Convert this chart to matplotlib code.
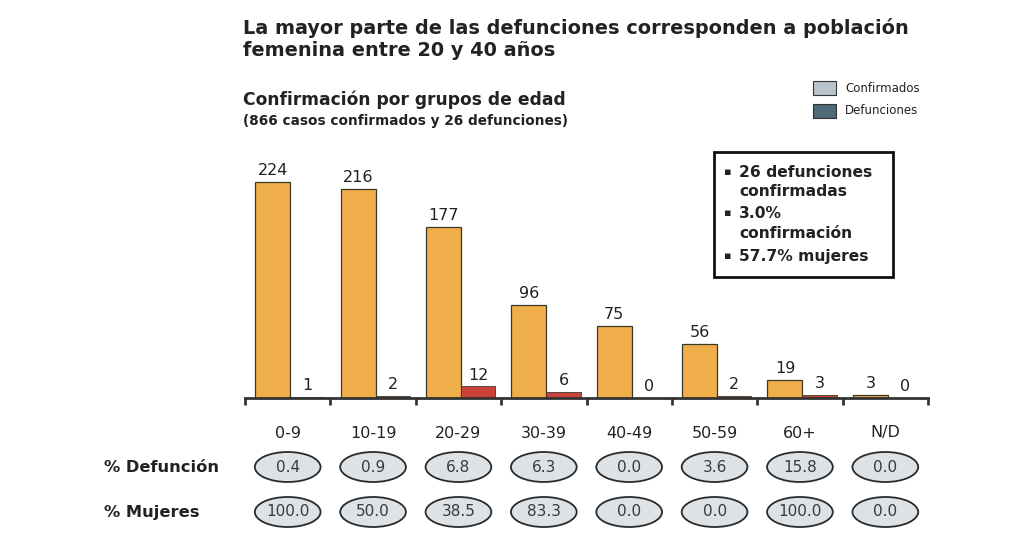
import numpy as np
import matplotlib.pyplot as plt
from matplotlib.patches import Ellipse, Rectangle
from matplotlib.transforms import blended_transform_factory

# data
grupos = ['0-9', '10-19', '20-29', '30-39', '40-49', '50-59', '60+', 'N/D']
confirmados = [224, 216, 177, 96, 75, 56, 19, 3]
defunciones = [1, 2, 12, 6, 0, 2, 3, 0]
pct_defuncion = ['0.4', '0.9', '6.8', '6.3', '0.0', '3.6', '15.8', '0.0']
pct_mujeres = ['100.0', '50.0', '38.5', '83.3', '0.0', '0.0', '100.0', '0.0']
resumen = ['26 defunciones\nconfirmadas', '3.0%\nconfirmación', '57.7% mujeres']

W, H = 1026, 535
txt = '#222222'
naranja = '#EFAE4A'
rojo = '#C9433B'

fig = plt.figure(figsize=(W / 100, H / 100), dpi=100)
fig.patch.set_facecolor('white')

def px(x, y):
    # pixel coords (from top-left) -> figure fraction
    return x / W, 1 - y / H

# bar axes
base_y = 398
ymax = 240
alto = ymax * 0.966
ax = fig.add_axes([245 / W, (H - base_y) / H, (928 - 245) / W, alto / H])
x = np.arange(len(grupos))
b1 = ax.bar(x - 0.38, confirmados, width=0.41, align='edge', color=naranja,
            edgecolor='#3a3a2a', linewidth=0.9)
b2 = ax.bar(x + 0.03, defunciones, width=0.40, align='edge', color=rojo,
            edgecolor='#3a3a2a', linewidth=0.6)
for r, v in zip(b1, confirmados):
    ax.text(r.get_x() + r.get_width() / 2, v + 4, str(v), ha='center', va='bottom',
            fontsize=11.5, color=txt)
for r, v in zip(b2, defunciones):
    ax.text(r.get_x() + r.get_width() / 2, v + 4, str(v), ha='center', va='bottom',
            fontsize=11.5, color=txt)

ax.set_xlim(-0.5, len(grupos) - 0.5)
ax.set_ylim(0, ymax)
for s in ['top', 'right', 'left']:
    ax.spines[s].set_visible(False)
ax.spines['bottom'].set_linewidth(2)
ax.spines['bottom'].set_color('#333333')
ax.set_yticks([])
ax.set_xticks(np.arange(len(grupos) + 1) - 0.5)
ax.set_xticklabels([])
ax.tick_params(axis='x', direction='out', length=5, width=2, color='#333333')

# category labels and % rows, x from data, y in figure fraction
tr = blended_transform_factory(ax.transData, fig.transFigure)
for i, g in enumerate(grupos):
    ax.text(i, px(0, 433)[1], g, transform=tr, ha='center', va='center',
            fontsize=11.5, color=txt, clip_on=False)
for fila, vals in [(467, pct_defuncion), (512, pct_mujeres)]:
    for i, v in enumerate(vals):
        e = Ellipse((i, px(0, fila)[1]), 0.77, 30 / H, transform=tr,
                    facecolor='#DCE2E5', edgecolor='#2a2a2a', linewidth=1.3,
                    clip_on=False)
        ax.add_patch(e)
        ax.text(i, px(0, fila)[1], v, transform=tr, ha='center', va='center',
                fontsize=11, color='#3a3a3a', clip_on=False)

fig.text(*px(104, 467), '% Defunción', ha='left', va='center', fontsize=11.7,
         fontweight='bold', color=txt)
fig.text(*px(104, 512), '% Mujeres', ha='left', va='center', fontsize=11.7,
         fontweight='bold', color=txt)

# titles
fig.text(*px(243, 28), 'La mayor parte de las defunciones corresponden a población',
         ha='left', va='center', fontsize=13.9, fontweight='bold', color=txt)
fig.text(*px(243, 50), 'femenina entre 20 y 40 años', ha='left', va='center',
         fontsize=13.9, fontweight='bold', color=txt)
fig.text(*px(243, 100), 'Confirmación por grupos de edad', ha='left', va='center',
         fontsize=12.3, fontweight='bold', color=txt)
fig.text(*px(243, 121), '(866 casos confirmados y 26 defunciones)', ha='left',
         va='center', fontsize=9.8, fontweight='bold', color=txt)

# legend
for yy, col, lab in [(88, '#B9C3CB', 'Confirmados'), (111, '#4F6A78', 'Defunciones')]:
    x0, y0 = px(813, yy + 7)
    fig.patches.append(Rectangle((x0, y0), 23 / W, 14 / H, transform=fig.transFigure,
                                 facecolor=col, edgecolor='#333333', linewidth=0.8))
    fig.text(*px(845, yy), lab, ha='left', va='center', fontsize=8.5, color=txt)

# summary box
bx0, by0 = px(714, 277)
fig.patches.append(Rectangle((bx0, by0), (893 - 714) / W, (277 - 152) / H,
                             transform=fig.transFigure, facecolor='white',
                             edgecolor='#111111', linewidth=2))
ys = [172, 213, 256]
for yy, t in zip(ys, resumen):
    fig.text(*px(724, yy), '▪', ha='left', va='center', fontsize=8, color=txt)
    for k, linea in enumerate(t.split('\n')):
        fig.text(*px(739, yy + 20 * k), linea, ha='left', va='center',
                 fontsize=11.2, fontweight='bold', color=txt)

plt.savefig('out.png', dpi=100)
